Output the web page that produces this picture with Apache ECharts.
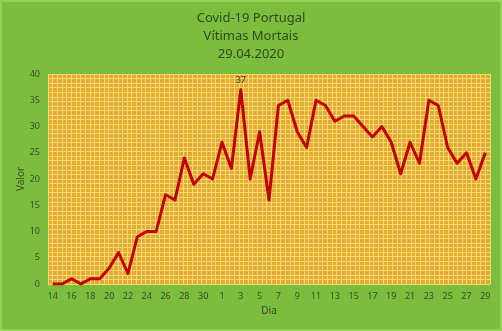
<!DOCTYPE html>
<html>
<head>
<meta charset="utf-8">
<script src="https://cdn.jsdelivr.net/npm/echarts@6/dist/echarts.min.js"></script>
<style>
  html, body { margin: 0; padding: 0; background: #8fd052; }
  #chart { width: 502px; height: 331px; box-sizing: border-box; border: 2px solid #93d35a; background: #7bbd3d; }
</style>
</head>
<body>
<div id="chart"></div>
<script>
// Daily deaths, Portugal, 14 March – 29 April 2020
const dias = [
  '14','15','16','17','18','19','20','21','22','23','24','25','26','27','28','29','30','31',
  '1','2','3','4','5','6','7','8','9','10','11','12','13','14','15','16','17','18','19','20',
  '21','22','23','24','25','26','27','28','29'
];
const mortes = [
  0, 0, 1, 0, 1, 1, 3, 6, 2, 9, 10, 10, 17, 16, 24, 19, 21, 20,
  27, 22, 37, 20, 29, 16, 34, 35, 29, 26, 35, 34, 31, 32, 32, 30, 28, 30, 27, 21,
  27, 23, 35, 34, 26, 23, 25, 20, 25
];
const yTicks = [0, 5, 10, 15, 20, 25, 30, 35, 40];
const pico = 37;

const chart = echarts.init(document.getElementById('chart'), null, { renderer: 'canvas' });
const txt = '#3b4a2c';
const font = '"Noto Sans", "Open Sans", sans-serif';

chart.setOption({
  animation: false,
  title: {
    text: 'Covid-19 Portugal\nVítimas Mortais\n29.04.2020',
    left: 'center',
    top: 2,
    textStyle: { color: '#2f4a22', fontSize: 13, fontWeight: 'normal', fontFamily: font, lineHeight: 18 }
  },
  grid: { left: 46, right: 10, top: 72, bottom: 45, backgroundColor: '#e4aa38', show: true, borderWidth: 0 },
  xAxis: [
    {
      type: 'category',
      data: dias,
      boundaryGap: true,
      name: 'Dia',
      nameLocation: 'middle',
      nameGap: 21,
      nameTextStyle: { color: txt, fontSize: 10, fontFamily: font },
      axisLine: { show: false },
      axisTick: { show: false },
      axisLabel: { interval: 1, color: txt, fontSize: 9, fontFamily: font, margin: 8 },
      splitLine: { show: false }
    },
    {
      // fine background lattice
      type: 'value', min: 0, max: 95, interval: 1, position: 'top',
      axisLine: { show: false }, axisTick: { show: false }, axisLabel: { show: false },
      splitLine: { show: true, lineStyle: { color: '#f6da6a', width: 1 } }
    }
  ],
  yAxis: [
    {
      type: 'value',
      min: 0, max: 40, interval: 5,
      name: 'Valor',
      nameLocation: 'middle',
      nameGap: 22,
      nameMoveOverlap: false,
      nameTextStyle: { color: txt, fontSize: 10, fontFamily: font },
      axisLine: { show: false },
      axisTick: { show: false },
      axisLabel: { color: txt, fontSize: 9, fontFamily: font, margin: 8,
        formatter: v => yTicks.includes(v) ? String(v) : '' },
      splitLine: { show: false }
    },
    {
      type: 'value', min: 0, max: 46, interval: 1, position: 'right',
      axisLine: { show: false }, axisTick: { show: false }, axisLabel: { show: false },
      splitLine: { show: true, lineStyle: { color: '#f6da6a', width: 1 } }
    }
  ],
  series: [{
    type: 'line',
    data: mortes.map(v => v === pico
      ? { value: v, label: { show: true, position: 'top', distance: 5, color: '#3a3a2a', fontSize: 9, fontFamily: font } }
      : v),
    xAxisIndex: 0,
    yAxisIndex: 0,
    symbol: 'circle',
    symbolSize: 0,
    showSymbol: true,
    showAllSymbol: true,
    lineStyle: { color: '#c00000', width: 3, join: 'round' },
    z: 5
  }]
});
</script>
</body>
</html>
